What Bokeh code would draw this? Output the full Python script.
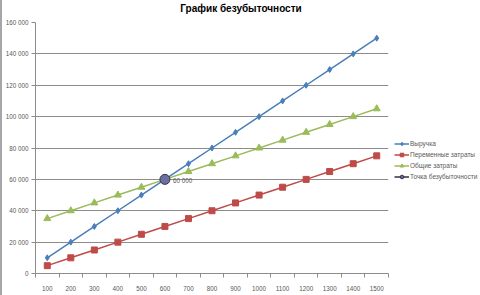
from bokeh.plotting import figure
from bokeh.layouts import column
from bokeh.models import (FixedTicker, Legend, LegendItem, Label, ColumnDataSource,
                          CustomJSTickFormatter, Div)
from bokeh.embed import file_html
from bokeh.resources import INLINE

# Volume of output (units)
volumes = [100, 200, 300, 400, 500, 600, 700, 800, 900, 1000, 1100, 1200, 1300, 1400, 1500]
# Revenue, variable costs and total costs (rubles)
revenue = [10000, 20000, 30000, 40000, 50000, 60000, 70000, 80000, 90000, 100000,
           110000, 120000, 130000, 140000, 150000]
variable_costs = [5000, 10000, 15000, 20000, 25000, 30000, 35000, 40000, 45000, 50000,
                  55000, 60000, 65000, 70000, 75000]
total_costs = [35000, 40000, 45000, 50000, 55000, 60000, 65000, 70000, 75000, 80000,
               85000, 90000, 95000, 100000, 105000]
# Break-even point
be_volume = 600
be_value = 60000

y_ticks = [0, 20000, 40000, 60000, 80000, 100000, 120000, 140000, 160000]

pos = list(range(1, len(volumes) + 1))
be_pos = pos[volumes.index(be_volume)]

FONT = "Liberation Sans"
TXT = "#595959"
GRID = "#8c8c8c"
BLUE = "#4a7ebb"
RED = "#be4b48"
GREEN = "#9bbb59"

title = Div(text="График безубыточности", width=478, height=17, margin=(0, 0, 0, 0),
            styles={"font-family": FONT, "font-size": "10px", "font-weight": "bold",
                    "color": "black", "text-align": "center", "line-height": "18px",
                    "width": "478px"})

p = figure(width=478, height=278, output_backend="svg", toolbar_location=None,
           x_range=(0.5, len(volumes) + 0.5), y_range=(0, 160000),
           frame_width=353, frame_height=251,
           min_border_left=32, min_border_right=5, min_border_top=5, min_border_bottom=22)
p.outline_line_color = None
p.background_fill_color = "white"
p.border_fill_color = "white"

# x axis: labels at category centres, ticks between categories
xa = p.xaxis[0]
xa.ticker = FixedTicker(ticks=pos, minor_ticks=[v + 0.5 for v in [0] + pos])
xa.major_label_overrides = {i: str(v) for i, v in zip(pos, volumes)}
xa.major_tick_line_color = None
xa.minor_tick_in = 0
xa.minor_tick_out = 4
xa.minor_tick_line_color = GRID
xa.axis_line_color = GRID
xa.major_label_text_font = FONT
xa.major_label_text_font_size = "6.3px"
xa.major_label_text_color = TXT
xa.major_label_standoff = 6

ya = p.yaxis[0]
ya.ticker = FixedTicker(ticks=y_ticks, minor_ticks=[])
ya.formatter = CustomJSTickFormatter(code="return tick == 0 ? '0' : (tick/1000).toFixed(0) + ' 000';")
ya.major_tick_in = 0
ya.major_tick_out = 4
ya.major_tick_line_color = GRID
ya.minor_tick_line_color = None
ya.axis_line_color = GRID
ya.major_label_text_font = FONT
ya.major_label_text_font_size = "6.3px"
ya.major_label_text_color = TXT
ya.major_label_standoff = 3

p.xgrid.grid_line_color = None
p.ygrid.ticker = FixedTicker(ticks=y_ticks)
p.ygrid.grid_line_color = GRID
p.ygrid.grid_line_width = 1

src = ColumnDataSource(dict(x=pos, rev=revenue, var=variable_costs, tot=total_costs))

l1 = p.line("x", "rev", source=src, line_color=BLUE, line_width=1.5)
m1 = p.scatter("x", "rev", source=src, marker="diamond", size=6, fill_color=BLUE, line_color=BLUE)
l2 = p.line("x", "var", source=src, line_color=RED, line_width=1.5)
m2 = p.scatter("x", "var", source=src, marker="square", size=6, fill_color=RED, line_color=RED)
l3 = p.line("x", "tot", source=src, line_color=GREEN, line_width=1.5)
m3 = p.scatter("x", "tot", source=src, marker="triangle", size=7, fill_color=GREEN, line_color=GREEN)

be = p.scatter([be_pos], [be_value], marker="circle", size=10,
               fill_color="#6f6f9f", line_color="#30304a", line_width=1)
be_line = p.line([be_pos], [be_value], line_color="#30304a", line_width=1.5)

p.add_layout(Label(x=be_pos, y=be_value, text="60 000", x_offset=8, y_offset=-1,
                   text_font=FONT, text_font_size="6.3px", text_color=TXT,
                   text_baseline="middle"))

legend = Legend(items=[
    LegendItem(label="Выручка", renderers=[l1, m1]),
    LegendItem(label="Переменные затраты", renderers=[l2, m2]),
    LegendItem(label="Общие затраты", renderers=[l3, m3]),
    LegendItem(label="Точка безубыточности", renderers=[be_line, be]),
], location=(6, 92))
legend.label_text_font = FONT
legend.label_text_font_size = "6.5px"
legend.label_text_color = TXT
legend.label_height = 9
legend.label_standoff = 1
legend.glyph_width = 15
legend.glyph_height = 9
legend.spacing = 2
legend.padding = 0
legend.margin = 0
legend.border_line_color = None
legend.background_fill_alpha = 0
p.add_layout(legend, "right")

page = column(title, p, spacing=0,
              styles={"border-left": "2px solid #a6a6a6", "background": "white"})

open("out.html", "w").write(file_html(page, INLINE))
